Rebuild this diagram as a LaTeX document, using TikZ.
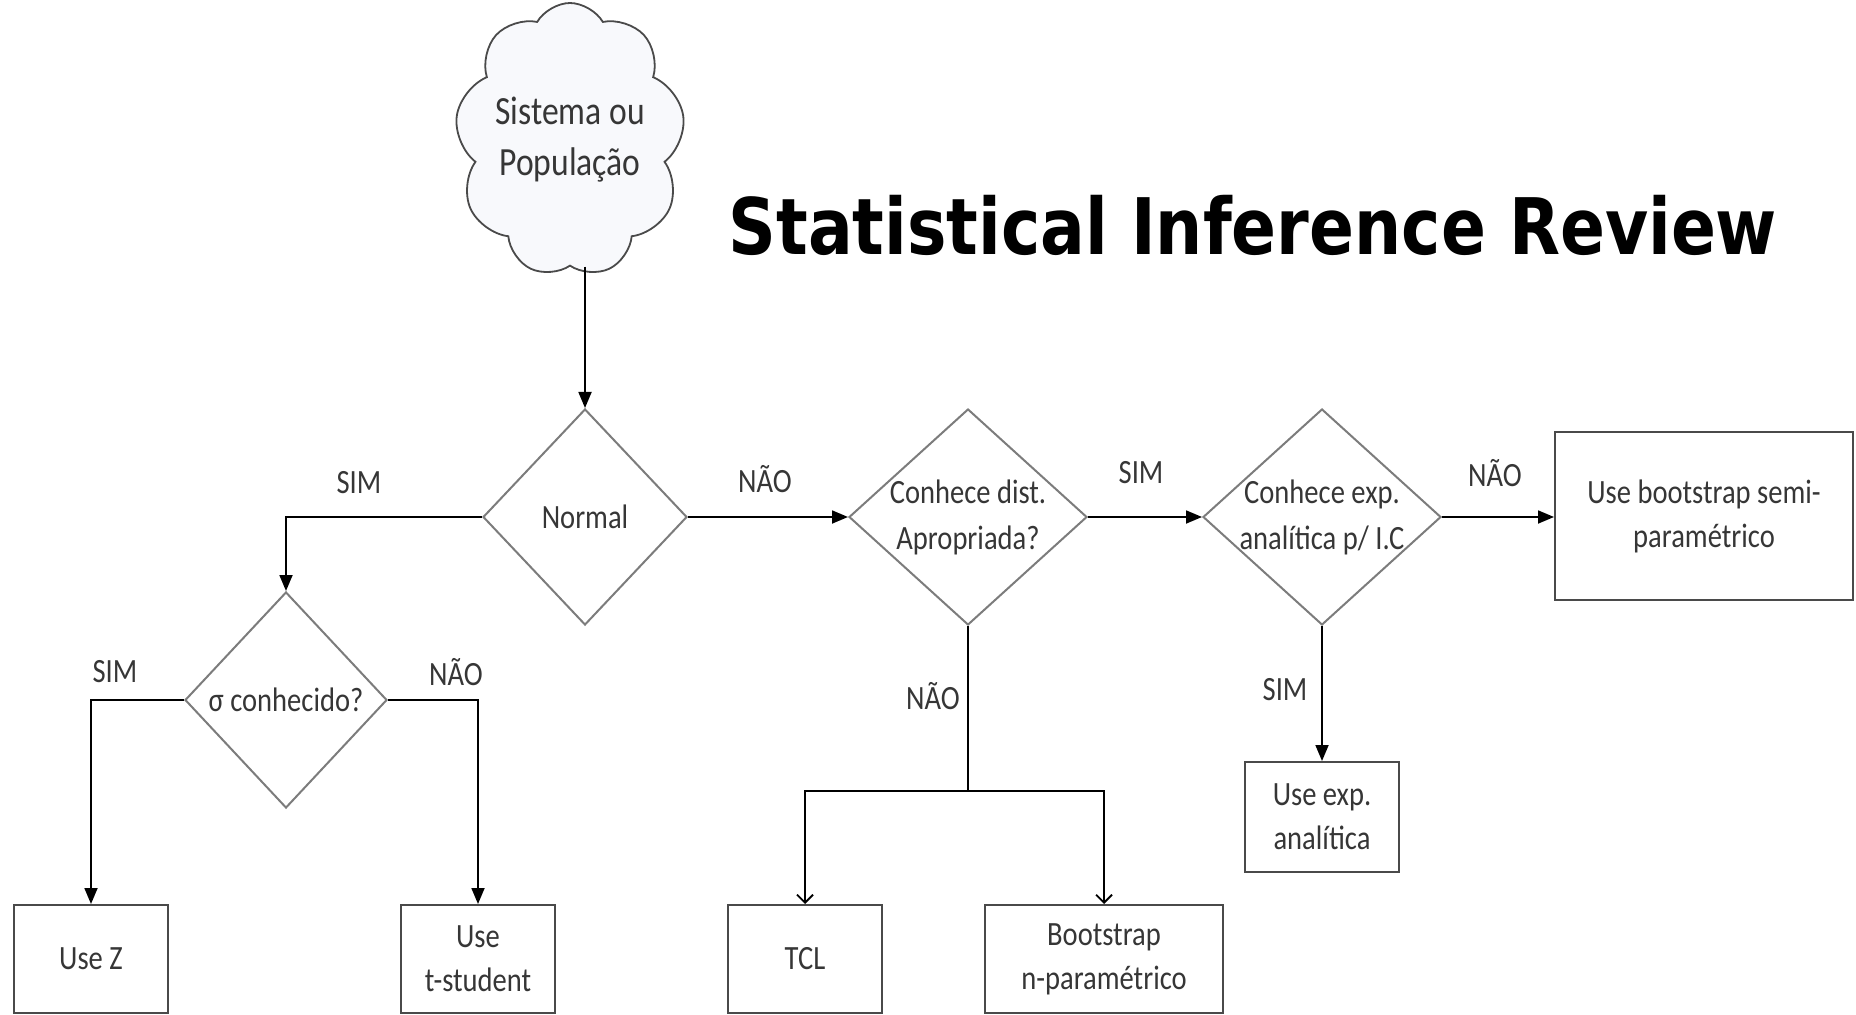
\documentclass[tikz,border=0pt]{standalone}
\usepackage{fontspec}
\setmainfont{Carlito}[FakeStretch=0.84]
\newfontfamily\titlefont{DejaVu Sans}[FakeStretch=0.85]
\usepackage{xcolor}
\usetikzlibrary{shapes.geometric,shapes.symbols,arrows.meta,positioning}
\definecolor{linegray}{HTML}{7C7C7C}
\definecolor{boxgray}{HTML}{4A4A4A}
\definecolor{txtgray}{HTML}{363636}
\definecolor{cloudfill}{HTML}{F8F9FC}
\tikzset{
  dec/.style={diamond, draw=linegray, line width=1pt, inner sep=0pt,
              minimum width=119pt, minimum height=108pt},
  dectext/.style={align=center, font=\fontsize{17}{23}\selectfont, text=txtgray},
  box/.style={rectangle, draw=boxgray, line width=1pt, minimum height=54pt,
              minimum width=77pt, align=center, font=\fontsize{17}{22}\selectfont,
              text=txtgray},
  lbl/.style={font=\fontsize{17}{20}\selectfont, text=txtgray},
  arr/.style={-{Triangle[length=8pt,width=6.5pt]}, line width=0.9pt},
  oarr/.style={-{Straight Barb[length=4pt,width=8pt]}, line width=0.9pt}
}

\begin{document}
\begin{tikzpicture}[x=0.5pt,y=-0.5pt]
  \useasboundingbox (0,0) rectangle (1856,1015);
  % cloud and title
  \node[cloud, cloud puffs=9, cloud puff arc=120, aspect=0.85, draw=boxgray,
        line width=0.9pt, fill=cloudfill, inner sep=0pt, minimum width=115pt,
        minimum height=137pt,
        label={[align=center, font=\fontsize{20}{25.5}\selectfont, text=txtgray]center:Sistema ou\\População}]
        (cloud) at (570,140) {};
  \node[font=\titlefont\bfseries\fontsize{39}{44}\selectfont] (title) at (1253,225)
        {Statistical Inference Review};
  % decisions
  \node[dec, minimum width=102pt, label={[dectext]center:Normal}] (normal) at (585,517) {};
  \node[dec, minimum width=101pt, label={[dectext]center:σ conhecido?}] (sigma) at (286,700) {};
  \node[dec, label={[dectext]center:Conhece dist.\\Apropriada?}] (dist) at (968,517) {};
  \node[dec, label={[dectext]center:Conhece exp.\\analítica p/ I.C}] (exp) at (1322,517) {};
  % results
  \node[box] (usez) at (91,959) {Use Z};
  \node[box] (tstud) at (478,959) {Use\\t-student};
  \node[box] (tcl) at (805,959) {TCL};
  \node[box, minimum width=119pt] (boot) at (1104,959) {Bootstrap\\n-paramétrico};
  \node[box, minimum height=55pt] (useexp) at (1322,817) {Use exp.\\analítica};
  \node[box, minimum width=149pt, minimum height=84pt] (semi) at (1704,516)
        {Use bootstrap semi-\\paramétrico};
  \coordinate (split) at ([yshift=-82.5pt]dist.south);
  % connectors
  \draw[arr] (cloud.south -| normal.north) -- (normal.north);
  \draw[arr] (normal.west) -| (sigma.north);
  \draw[arr] (sigma.west) -| (usez.north);
  \draw[arr] (sigma.east) -| (tstud.north);
  \draw[arr] (normal.east) -- (dist.west);
  \draw[arr] (dist.east) -- (exp.west);
  \draw[arr] (exp.east) -- (semi.west |- exp.east);
  \draw[arr] (exp.south) -- (useexp.north);
  \draw[line width=0.9pt] (dist.south) -- (split);
  \draw[oarr] (split) -| (tcl.north);
  \draw[oarr] (split) -| (boot.north);
  % labels
  \node[lbl] (l1) at (359,483) {SIM};
  \node[lbl] (l2) at (115,672) {SIM};
  \node[lbl] (l3) at (456,672) {NÃO};
  \node[lbl] (l4) at (765,479) {NÃO};
  \node[lbl] (l5) at (933,696) {NÃO};
  \node[lbl] (l6) at (1141,473) {SIM};
  \node[lbl] (l7) at (1495,473) {NÃO};
  \node[lbl] (l8) at (1285,690) {SIM};
\end{tikzpicture}
\end{document}
